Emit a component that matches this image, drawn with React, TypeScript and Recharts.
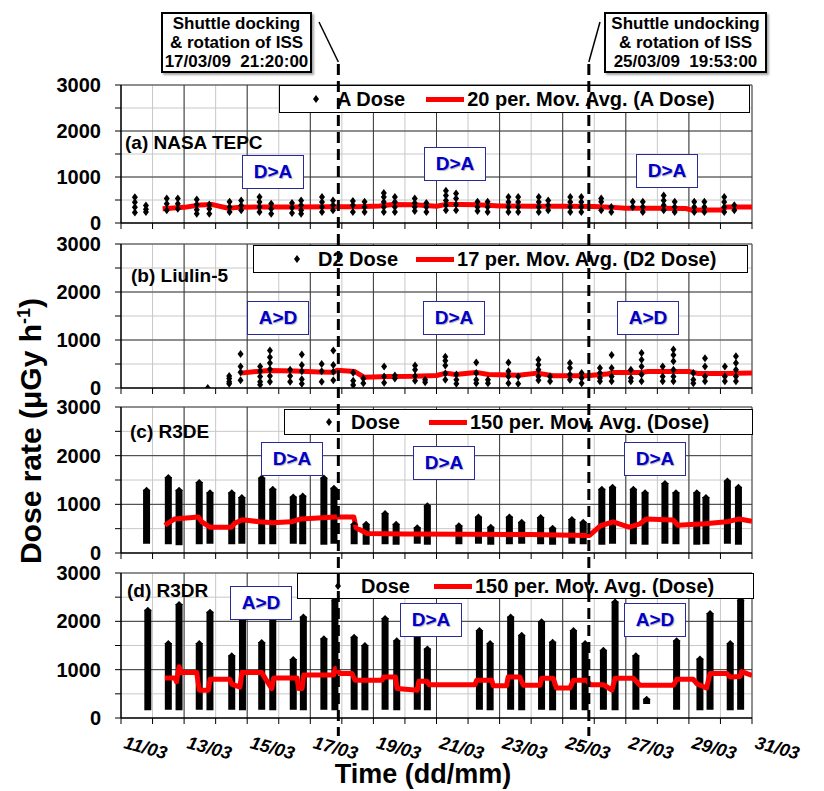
import React from 'react';
import {
  ComposedChart,
  Scatter,
  Line,
  ErrorBar,
  XAxis,
  YAxis,
  CartesianGrid,
  ReferenceLine,
  Legend,
} from 'recharts';

const FONT = 'Arial, "Liberation Sans", Helvetica, sans-serif';

// shared axes (days of March 2009)
const dayTicks = [11, 12, 13, 14, 15, 16, 17, 18, 19, 20, 21, 22, 23, 24, 25, 26, 27, 28, 29, 30, 31];
const labelledDays = [11, 13, 15, 17, 19, 21, 23, 25, 27, 29, 31];
const doseTicks = [0, 500, 1000, 1500, 2000, 2500, 3000];
const majorDoses = [1000, 2000, 3000];

// shuttle events
const eventDays = [17, 25];
const eventClock = ['21:20:00', '19:53:00'];
const eventTitles = [
  ['Shuttle docking', '& rotation of ISS', '17/03/09  21:20:00'],
  ['Shuttle undocking', '& rotation of ISS', '25/03/09  19:53:00'],
];

// (a) NASA TEPC - A Dose
const tepcTimes = [11.44, 11.79, 12.45, 12.8, 13.4, 13.8, 14.44, 14.81, 15.39, 15.76, 16.42, 16.71, 17.37, 17.72, 18.35, 18.72, 19.33, 19.68, 20.31, 20.68, 21.3, 21.62, 22.3, 22.62, 23.28, 23.59, 24.24, 24.54, 25.24, 25.59, 26.22, 26.54, 27.22, 27.54, 28.2, 28.55, 29.17, 29.49, 30.12, 30.44];
const tepcDoses = [
  [560, 450, 340, 230], [380, 300, 240], [530, 420, 275], [530, 420, 310], [510, 400, 290, 200],
  [400, 310, 200], [460, 350, 240], [490, 380, 275], [566, 457, 349, 240], [420, 310, 200],
  [435, 330, 220], [490, 385, 275, 200], [566, 457, 349, 240], [490, 385, 275], [480, 385, 240],
  [460, 350, 240], [650, 566, 457, 349, 240], [566, 457, 349, 240], [530, 435, 350, 260], [435, 350, 240],
  [700, 600, 490, 385, 275], [640, 530, 400, 275], [460, 350, 260], [460, 350, 240], [566, 457, 349, 240],
  [566, 457, 349, 240], [566, 457, 349, 240], [490, 385, 275], [566, 457, 349, 240], [566, 457, 349, 240],
  [530, 460, 275], [350, 240], [460, 350], [460, 350, 240], [600, 490, 385, 275],
  [460, 350, 240], [460, 350, 240], [460, 350, 240], [566, 457, 349, 240], [385, 275],
];
const tepcAvgTimes = [12.32, 13.0, 13.5, 13.9, 14.4, 14.8, 15.5, 16.5, 17.5, 18.5, 19.2, 19.6, 20.3, 21.0, 21.3, 22.3, 23.0, 24.0, 25.0, 26.0, 26.5, 27.0, 28.0, 28.9, 29.1, 30.0, 30.2, 31.0];
const tepcAvg = [310, 340, 390, 400, 320, 345, 350, 350, 355, 355, 370, 400, 395, 365, 405, 395, 370, 365, 365, 360, 345, 320, 320, 315, 280, 280, 350, 350];

// (b) Liulin-5 - D2 Dose
const liulinTimes = [13.75, 14.43, 14.79, 15.41, 15.72, 16.36, 16.73, 17.36, 17.73, 18.36, 18.68, 19.34, 19.68, 20.32, 20.64, 21.28, 21.63, 22.26, 22.63, 23.28, 23.59, 24.23, 24.6, 25.23, 25.6, 26.18, 26.55, 27.16, 27.5, 28.17, 28.51, 29.14, 29.51, 30.14, 30.49];
const liulinDoses = [
  [0], [250, 200, 130, 90], [710, 450, 330, 160], [450, 350, 240, 130, 70], [780, 640, 520, 390, 250, 130],
  [380, 250, 130], [700, 480, 350, 180, 90], [500, 350, 130], [780, 480, 340, 160], [320, 150, 60],
  [200, 100], [450, 240, 110], [260, 200], [470, 380, 250, 150], [170, 120],
  [650, 570, 470, 300, 170], [280, 170, 90], [530, 310, 170, 100], [170, 100], [530, 350, 240, 100],
  [240, 90], [590, 485, 380, 240, 160], [240, 140], [520, 415, 280, 170], [310, 210, 100],
  [415, 310, 210, 140], [690, 415, 240, 140], [380, 210, 140], [730, 590, 450, 280, 140], [450, 240, 140],
  [800, 690, 555, 380, 240, 140], [310, 170, 100], [620, 450, 240, 140], [450, 240, 140], [660, 520, 380, 240, 140],
];
const liulinAvgTimes = [14.79, 15.2, 15.7, 16.5, 17.3, 17.75, 17.85, 18.4, 18.7, 19.5, 20.3, 21.0, 21.3, 21.6, 22.25, 22.65, 23.6, 24.2, 24.7, 25.75, 26.4, 26.6, 27.5, 27.7, 29.0, 29.3, 30.1, 31.0];
const liulinAvg = [310, 340, 365, 355, 335, 330, 370, 345, 225, 240, 245, 260, 310, 280, 325, 280, 265, 310, 255, 255, 290, 325, 325, 345, 345, 300, 300, 310];

// (c) R3DE - Dose, each pass drawn as its lowest..highest reading
const r3deTimes = [11.81, 12.5, 12.84, 13.48, 13.82, 14.51, 14.83, 15.46, 15.81, 16.46, 16.76, 17.43, 17.75, 18.39, 18.77, 19.37, 19.72, 20.39, 20.71, 21.71, 22.33, 22.72, 23.31, 23.7, 24.3, 24.68, 25.29, 25.65, 26.24, 26.58, 27.24, 27.61, 28.24, 28.59, 29.25, 29.54, 30.22, 30.57];
const r3deLow = [190, 180, 160, 180, 190, 180, 190, 180, 180, 190, 180, 170, 190, 180, 170, 180, 170, 190, 170, 180, 190, 170, 180, 190, 180, 170, 190, 180, 170, 190, 180, 170, 190, 180, 170, 180, 190, 170];
const r3deHigh = [1300, 1560, 1300, 1460, 1250, 1250, 1150, 1550, 1320, 1160, 1180, 1550, 1340, 600, 600, 820, 600, 530, 980, 570, 750, 540, 750, 640, 740, 520, 700, 640, 1320, 1360, 1320, 1250, 1440, 1250, 1250, 1150, 1490, 1360];
const r3deAvgTimes = [12.39, 12.7, 13.45, 13.56, 13.82, 14.5, 14.6, 14.85, 15.4, 15.8, 16.4, 16.7, 17.8, 18.38, 18.45, 18.8, 20.0, 22.0, 24.0, 25.75, 25.85, 26.2, 26.6, 27.1, 27.45, 27.65, 28.5, 28.65, 29.5, 30.2, 30.6, 31.0];
const r3deAvg = [570, 700, 740, 640, 530, 530, 610, 685, 640, 620, 640, 700, 740, 740, 520, 400, 390, 385, 380, 360, 360, 560, 640, 530, 600, 700, 680, 570, 600, 640, 700, 650];

// (d) R3DR - Dose
const r3drTimes = [11.85, 12.5, 12.84, 13.48, 13.82, 14.51, 14.85, 15.46, 15.81, 16.46, 16.78, 17.43, 17.78, 18.39, 18.73, 19.37, 19.74, 20.39, 20.71, 22.36, 22.7, 23.35, 23.7, 24.33, 24.68, 25.34, 25.71, 26.29, 26.66, 27.32, 27.66, 28.61, 29.35, 29.67, 30.31, 30.64];
const r3drLow = [160, 170, 160, 170, 160, 170, 160, 170, 160, 170, 160, 170, 160, 170, 160, 170, 160, 170, 160, 170, 160, 170, 160, 170, 160, 170, 160, 170, 160, 170, 290, 170, 160, 170, 160, 170];
const r3drHigh = [2240, 1550, 2360, 1550, 2200, 1300, 2100, 1570, 2070, 1220, 2100, 1650, 2450, 1680, 1510, 2070, 1610, 1790, 1440, 1820, 1550, 2100, 1720, 2000, 1580, 1820, 1550, 1410, 2410, 1300, 400, 1610, 1230, 2170, 1550, 2450];
const r3drAvgTimes = [12.39, 12.71, 12.76, 12.84, 12.92, 13.4, 13.48, 13.77, 13.82, 14.45, 14.51, 14.77, 14.83, 15.46, 15.57, 15.78, 15.84, 16.58, 16.63, 16.74, 16.79, 17.74, 17.79, 17.95, 18.32, 18.42, 19.27, 19.33, 19.7, 19.75, 20.39, 20.44, 20.7, 20.76, 22.22, 22.27, 22.75, 22.8, 23.22, 23.27, 23.64, 23.75, 24.28, 24.33, 24.7, 24.8, 25.23, 25.34, 25.76, 25.87, 26.29, 26.56, 26.66, 27.24, 27.45, 28.51, 28.61, 29.14, 29.25, 29.56, 29.67, 30.2, 30.31, 30.62, 30.67, 31.0];
const r3drAvg = [830, 830, 750, 1060, 940, 940, 575, 575, 800, 800, 700, 640, 940, 940, 820, 610, 830, 830, 610, 610, 890, 890, 1025, 920, 920, 780, 780, 850, 850, 610, 575, 760, 760, 690, 690, 780, 780, 665, 665, 850, 850, 680, 680, 820, 820, 620, 620, 780, 780, 690, 690, 575, 820, 820, 680, 680, 800, 800, 710, 620, 920, 920, 850, 860, 960, 880];

const panelNames = ['(a) NASA TEPC', '(b) Liulin-5', '(c) R3DE', '(d) R3DR'];
const dotNames = ['A Dose', 'D2 Dose', 'Dose', 'Dose'];
const avgNames = ['20 per. Mov. Avg. (A Dose)', '17 per. Mov. Avg. (D2 Dose)', '150 per. Mov. Avg. (Dose)', '150 per. Mov. Avg. (Dose)'];
const orientationLabels = [
  ['D>A', 'D>A', 'D>A'],
  ['A>D', 'D>A', 'A>D'],
  ['D>A', 'D>A', 'D>A'],
  ['A>D', 'D>A', 'A>D'],
];

// layout
const PAGE_W = 824;
const PAGE_H = 791;
const PLOT_LEFT = 121;
const PLOT_RIGHT = 752;
const TOP_PAD = 12;
const X_MIN = 11;
const X_MAX = 31;

const dayToPx = (d: number) => PLOT_LEFT + ((d - X_MIN) / (X_MAX - X_MIN)) * (PLOT_RIGHT - PLOT_LEFT);

const panels = [
  { top: 85, height: 138, axisH: 14, label: { x: 125, y: 143 },
    legend: { left: 279, top: 85, width: 471, height: 28, pad: 33, gap1: 18, gap2: 21 },
    boxes: [{ x: 242, y: 155 }, { x: 424, y: 147 }, { x: 636, y: 154 }] },
  { top: 244, height: 144, axisH: 14, label: { x: 131, y: 276 },
    legend: { left: 253, top: 245, width: 495, height: 28, pad: 40, gap1: 18, gap2: 18 },
    boxes: [{ x: 247, y: 301 }, { x: 423, y: 301 }, { x: 617, y: 301 }] },
  { top: 407, height: 146, axisH: 14, label: { x: 130, y: 432 },
    legend: { left: 284, top: 409, width: 469, height: 26, pad: 41, gap1: 19, gap2: 29 },
    boxes: [{ x: 261, y: 442 }, { x: 413, y: 446 }, { x: 624, y: 442 }] },
  { top: 573, height: 145, axisH: 60, label: { x: 127, y: 591 },
    legend: { left: 297, top: 573, width: 457, height: 26, pad: 37, gap1: 20, gap2: 24 },
    boxes: [{ x: 230, y: 586 }, { x: 400, y: 603 }, { x: 624, y: 603 }] },
];

const toPoints = (times: number[], doses: number[][]) =>
  times.flatMap((t, i) => (doses[i] || []).map((y) => ({ x: t, y })));

const toAvg = (times: number[], vals: number[]) =>
  times.slice(0, vals.length).map((t, i) => ({ x: t, avg: vals[i] }));

// each pass: marker at its highest reading, error bar reaching down to its lowest
const toColumns = (times: number[], low: number[], high: number[]) =>
  times.map((t, i) => ({ x: t, y: high[i], spread: [high[i] - low[i], 0] }));

const series = [
  { points: toPoints(tepcTimes, tepcDoses), avg: toAvg(tepcAvgTimes, tepcAvg) },
  { points: toPoints(liulinTimes, liulinDoses), avg: toAvg(liulinAvgTimes, liulinAvg) },
  { columns: toColumns(r3deTimes, r3deLow, r3deHigh), avg: toAvg(r3deAvgTimes, r3deAvg) },
  { columns: toColumns(r3drTimes, r3drLow, r3drHigh), avg: toAvg(r3drAvgTimes, r3drAvg) },
];

const Diamond = (props: any) => {
  const { cx, cy } = props;
  if (cx == null || cy == null) return <g />;
  return <polygon points={`${cx},${cy - 4} ${cx + 3},${cy} ${cx},${cy + 4} ${cx - 3},${cy}`} fill="#000" />;
};

const ColumnTop = (props: any) => {
  const { cx, cy } = props;
  if (cx == null || cy == null) return <g />;
  return <polygon points={`${cx},${cy - 3} ${cx + 4},${cy + 1} ${cx - 4},${cy + 1}`} fill="#000" />;
};

const DayTick = (props: any) => {
  const { x, y, payload, showLabels } = props;
  const d = payload.value;
  if (!showLabels || !labelledDays.includes(d)) return <g />;
  const tx = x + 2;
  const ty = y + 22;
  return (
    <text x={tx} y={ty} transform={`rotate(15 ${tx} ${ty})`} fontFamily={FONT} fontSize={18}
      fontStyle="italic" fontWeight="bold" fill="#000">
      {`${d}/03`}
    </text>
  );
};

const LegendBox = ({ dotName, avgName, pad, gap1, gap2 }: any) => (
  <div style={{
    display: 'flex', alignItems: 'center', width: '100%', height: '100%', boxSizing: 'border-box',
    border: '1px solid #000', background: '#fff', paddingLeft: pad, fontFamily: FONT,
    fontWeight: 'bold', fontSize: 20, color: '#000', whiteSpace: 'nowrap',
  }}>
    <svg width={6} height={8} style={{ flex: 'none' }}>
      <polygon points="3,0 6,4 3,8 0,4" fill="#000" />
    </svg>
    <span style={{ marginLeft: gap1 }}>{dotName}</span>
    <span style={{ marginLeft: gap2, width: 38, height: 5, background: '#ff0000', display: 'inline-block', flex: 'none' }} />
    <span style={{ marginLeft: 3 }}>{avgName}</span>
  </div>
);

function DosePanel({ index }: { index: number }) {
  const p = panels[index];
  const s: any = series[index];
  const chartTop = p.top - TOP_PAD;
  const height = TOP_PAD + p.height + p.axisH;
  const lg = p.legend;
  return (
    <div style={{ position: 'absolute', left: 0, top: chartTop, width: PAGE_W, height }}>
      <ComposedChart
        width={PAGE_W}
        height={height}
        data={s.avg}
        margin={{ top: TOP_PAD, right: PAGE_W - PLOT_RIGHT, bottom: 0, left: 0 }}
      >
        <CartesianGrid stroke="#c8c8c8" strokeWidth={1} />
        {labelledDays.slice(1).map((d) => (
          <ReferenceLine key={`vx${d}`} x={d} stroke="#3a3a3a" strokeWidth={1} />
        ))}
        {majorDoses.map((v) => (
          <ReferenceLine key={`hy${v}`} y={v} stroke="#3a3a3a" strokeWidth={1} />
        ))}
        <XAxis
          type="number"
          dataKey="x"
          domain={[X_MIN, X_MAX]}
          ticks={dayTicks}
          interval={0}
          allowDataOverflow
          height={p.axisH}
          tickSize={6}
          tickLine={{ stroke: '#000' }}
          axisLine={{ stroke: '#000', strokeWidth: 1.5 }}
          tick={<DayTick showLabels={index === 3} />}
        />
        <YAxis
          type="number"
          domain={[0, 3000]}
          ticks={doseTicks}
          interval={0}
          allowDataOverflow
          width={PLOT_LEFT}
          tickSize={6}
          tickMargin={14}
          tickLine={{ stroke: '#000' }}
          axisLine={{ stroke: '#000', strokeWidth: 1.5 }}
          tickFormatter={(v: number) => (v % 1000 === 0 ? String(v) : '')}
          tick={{ fill: '#000', fontSize: 20, fontWeight: 'bold', fontFamily: FONT }}
        />
        {s.columns && (
          <Scatter data={s.columns} dataKey="y" name={dotNames[index]} shape={<ColumnTop />} isAnimationActive={false}>
            <ErrorBar dataKey="spread" direction="y" width={0} stroke="#000" strokeWidth={7} isAnimationActive={false} />
          </Scatter>
        )}
        {s.points && (
          <Scatter data={s.points} dataKey="y" name={dotNames[index]} shape={<Diamond />} isAnimationActive={false} />
        )}
        <Line
          dataKey="avg"
          name={avgNames[index]}
          type="linear"
          stroke="#ff0000"
          strokeWidth={5}
          strokeLinejoin="round"
          dot={false}
          isAnimationActive={false}
        />
        <Legend
          layout="horizontal"
          verticalAlign="middle"
          align="center"
          wrapperStyle={{ left: lg.left, top: lg.top - chartTop, width: lg.width, height: lg.height, right: 'auto', bottom: 'auto' }}
          content={<LegendBox dotName={dotNames[index]} avgName={avgNames[index]} pad={lg.pad} gap1={lg.gap1} gap2={lg.gap2} />}
        />
      </ComposedChart>
    </div>
  );
}

const clockToDay = (day: number, clock: string) => {
  const [h, m, sec] = clock.split(':').map(Number);
  return day + (h + m / 60 + sec / 3600) / 24;
};

const eventBoxes = [
  { left: 161, top: 12, width: 151, height: 61, tail: 319 },
  { left: 604, top: 12, width: 163, height: 61, tail: 600 },
];

export default function App() {
  const eventX = eventDays.map((d, i) => dayToPx(clockToDay(d, eventClock[i])));
  return (
    <div style={{ position: 'absolute', left: 0, top: 0, width: PAGE_W, height: PAGE_H, background: '#fff', overflow: 'hidden', fontFamily: FONT }}>
      {panels.map((_, i) => <DosePanel key={i} index={i} />)}

      {panels.map((p, i) => (
        <div key={`lbl${i}`} style={{ position: 'absolute', left: p.label.x, top: p.label.y - 11, lineHeight: '22px', fontSize: 19, fontWeight: 'bold', color: '#000', whiteSpace: 'nowrap' }}>
          {panelNames[i]}
        </div>
      ))}

      {panels.map((p, i) => p.boxes.map((b, j) => (
        <div key={`or${i}${j}`} style={{
          position: 'absolute', left: b.x, top: b.y, width: 62, height: 34, boxSizing: 'border-box',
          border: '1.5px solid #2a2a96', background: '#fff', color: '#0000cc', fontSize: 19, fontWeight: 'bold',
          display: 'flex', alignItems: 'center', justifyContent: 'center', textShadow: '1px 1px 1px rgba(0,0,0,0.3)',
        }}>
          {orientationLabels[i][j]}
        </div>
      )))}

      {eventBoxes.map((b, i) => (
        <div key={`ev${i}`} style={{
          position: 'absolute', left: b.left, top: b.top, width: b.width, height: b.height, boxSizing: 'border-box',
          border: '2px solid #000', background: '#fff', fontSize: 17, fontWeight: 'bold', lineHeight: '19px',
          textAlign: 'center', whiteSpace: 'pre', display: 'flex', flexDirection: 'column', justifyContent: 'center',
          boxShadow: '2px 2px 2px rgba(0,0,0,0.35)',
        }}>
          {eventTitles[i].map((t, k) => <div key={k}>{t}</div>)}
        </div>
      ))}

      <svg width={PAGE_W} height={PAGE_H} style={{ position: 'absolute', left: 0, top: 0, pointerEvents: 'none' }}>
        {eventX.map((x, i) => (
          <g key={`dl${i}`}>
            <line x1={eventBoxes[i].tail} y1={22} x2={x} y2={62} stroke="#000" strokeWidth={1.5} />
            <line x1={x} y1={64} x2={x} y2={736} stroke="#000" strokeWidth={3} strokeDasharray="11 6" />
          </g>
        ))}
        <text transform="translate(41 431) rotate(-90)" textAnchor="middle" fontFamily={FONT} fontSize={30} fontWeight="bold" fill="#000">
          Dose rate (μGy h
          <tspan dy={-11} fontSize={18}>-1</tspan>
          <tspan dy={11}>)</tspan>
        </text>
        <text x={423} y={783} textAnchor="middle" fontFamily={FONT} fontSize={27} fontWeight="bold" fill="#000">
          Time (dd/mm)
        </text>
      </svg>
    </div>
  );
}
